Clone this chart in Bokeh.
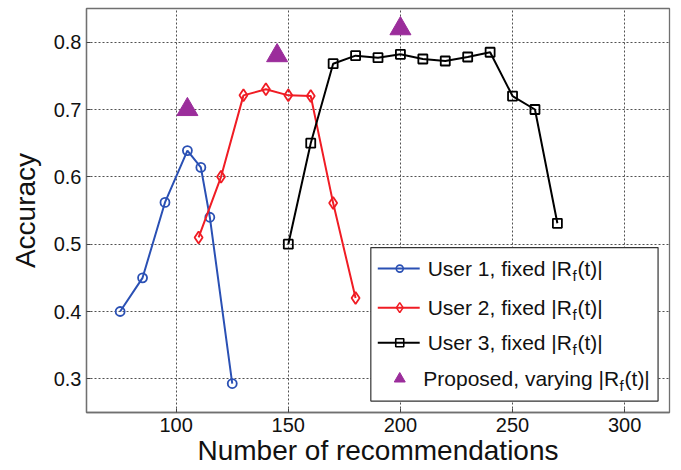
from bokeh.plotting import figure
from bokeh.models import Range1d, FixedTicker
from bokeh.core.properties import value
from bokeh.embed import file_html
from bokeh.resources import INLINE

# ---- data ----
u1_x = [75, 85, 95, 105, 111, 115, 125]
u1_y = [0.400, 0.450, 0.562, 0.639, 0.614, 0.540, 0.293]
u2_x = [110, 120, 130, 140, 150, 160, 170, 180]
u2_y = [0.510, 0.600, 0.721, 0.730, 0.721, 0.720, 0.561, 0.420]
u3_x = [150, 160, 170, 180, 190, 200, 210, 220, 230, 240, 250, 260, 270]
u3_y = [0.500, 0.650, 0.768, 0.780, 0.777, 0.782, 0.775, 0.772, 0.778, 0.785, 0.720, 0.700, 0.531]
prop_x = [105, 145, 200]
prop_y = [0.700, 0.780, 0.820]

x_ticks = [100, 150, 200, 250, 300]
y_ticks = [0.3, 0.4, 0.5, 0.6, 0.7, 0.8]

legend_prefix = ["User 1, fixed |R", "User 2, fixed |R", "User 3, fixed |R", "Proposed, varying |R"]
legend_sub = ["f", "f", "f", "f"]
legend_tail = ["(t)|", "(t)|", "(t)|", "(t)|"]

BLUE = "#2a50b4"
RED = "#f01c24"
BLACK = "#000000"
PURPLE = "#9b2d9b"
FONT = "Liberation Sans"

p = figure(width=681, height=470, output_backend="svg", toolbar_location=None,
           x_range=Range1d(60, 320), y_range=Range1d(0.25, 0.85),
           min_border_left=86, min_border_right=12, min_border_top=8, min_border_bottom=58)

p.background_fill_color = "white"
p.border_fill_color = "white"
p.outline_line_color = "#707070"
p.outline_line_width = 1.3

p.xaxis.ticker = FixedTicker(ticks=x_ticks)
p.yaxis.ticker = FixedTicker(ticks=y_ticks)
for ax in (p.xaxis[0], p.yaxis[0]):
    ax.axis_line_color = "#707070"
    ax.axis_line_width = 1.3
    ax.major_tick_in = 4
    ax.major_tick_out = 0
    ax.major_tick_line_color = "#444444"
    ax.minor_tick_line_color = None
    ax.major_label_text_font = FONT
    ax.major_label_text_font_size = "20px"
    ax.major_label_text_color = "#111111"
    ax.axis_label_text_font = FONT
    ax.axis_label_text_font_size = "28px"
    ax.axis_label_text_font_style = "normal"
    ax.axis_label_text_color = "#111111"
p.xaxis.axis_label = "Number of recommendations"
p.yaxis.axis_label = "Accuracy"
p.xaxis.major_label_standoff = 5
p.xaxis.axis_label_standoff = 0
p.yaxis.major_label_standoff = 5
p.yaxis.axis_label_standoff = 10

p.grid.grid_line_color = "#333333"
p.grid.grid_line_dash = "2 2"
p.grid.grid_line_width = 1
p.grid.grid_line_alpha = 0.85

# series
p.line(u1_x, u1_y, line_color=BLUE, line_width=2)
p.scatter(u1_x, u1_y, marker="circle", size=9, fill_color=None, line_color=BLUE, line_width=1.8)
p.line(u2_x, u2_y, line_color=RED, line_width=2)
p.scatter(u2_x, u2_y, marker="diamond", size=12, fill_color=None, line_color=RED, line_width=1.8)
p.line(u3_x, u3_y, line_color=BLACK, line_width=2)
p.scatter(u3_x, u3_y, marker="square", size=9, fill_color=None, line_color=BLACK, line_width=1.8)
p.scatter(prop_x, prop_y, marker="triangle", size=21, fill_color=PURPLE, line_color=PURPLE)

# ---- legend (layout positions) ----
lg_left, lg_right, lg_top, lg_bottom = 186.8, 314.9, 0.495, 0.267
rows = [0.4637, 0.4057, 0.3536, 0.300]
p.quad(left=[lg_left], right=[lg_right], top=[lg_top], bottom=[lg_bottom],
       fill_color="white", line_color="#333333", line_width=1.2)
p.segment(x0=[189.9] * 3, x1=[208.6] * 3, y0=rows[:3], y1=rows[:3],
          line_color=[BLUE, RED, BLACK], line_width=2)
p.scatter([199.7], [rows[0]], marker="circle", size=7, fill_color=None, line_color=BLUE, line_width=1.6)
p.scatter([199.7], [rows[1]], marker="diamond", size=10, fill_color=None, line_color=RED, line_width=1.6)
p.scatter([199.7], [rows[2]], marker="square", size=8, fill_color=None, line_color=BLACK, line_width=1.6)
p.scatter([199.7], [rows[3]], marker="triangle", size=11, fill_color=PURPLE, line_color=PURPLE)

r_end = [276.5, 276.5, 276.5, 297.5]
p.text(x=r_end, y=rows, text=legend_prefix, text_align="right", text_baseline="middle",
       text_font=value(FONT), text_font_size="21px", text_color="#111111")
p.text(x=r_end, y=rows, text=legend_sub, text_align="left", text_baseline="middle",
       x_offset=0.5, y_offset=7, text_font=value(FONT), text_font_size="15px", text_color="#111111")
p.text(x=r_end, y=rows, text=legend_tail, text_align="left", text_baseline="middle",
       x_offset=5.5, text_font=value(FONT), text_font_size="21px", text_color="#111111")

open("out.html", "w").write(file_html(p, INLINE))
